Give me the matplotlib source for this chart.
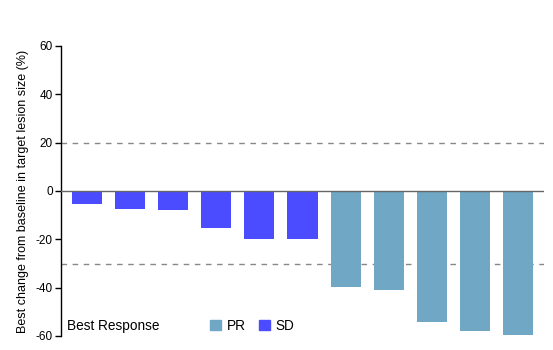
import numpy as np
import matplotlib
matplotlib.use("Agg")
import matplotlib.pyplot as plt
from matplotlib.patches import Patch

plt.rcParams['font.family'] = ['Liberation Sans', 'DejaVu Sans']

# best change per patient (%), sorted
changes = [-5.5, -7.3, -7.7, -15.2, -19.7, -19.9, -39.9, -41.1, -54.2, -57.9, -59.6]
responses = ['SD', 'SD', 'SD', 'SD', 'SD', 'SD', 'PR', 'PR', 'PR', 'PR', 'PR']
colors = {'PR': '#70a7c4', 'SD': '#4b4bff'}
yticks = [-60, -40, -20, 0, 20, 40, 60]
ref_lines = [20, -30]

fig = plt.figure(figsize=(5.53, 3.5), dpi=100)
ax = fig.add_axes([61/553, 14/350, (544-61)/553, 290/350])

x = np.arange(len(changes))
ax.bar(x, changes, width=0.7, color=[colors[r] for r in responses], zorder=2)

ax.axhline(0, color='#666666', lw=1.0, zorder=3)
for yl in ref_lines:
    ax.axhline(yl, color='#888888', lw=1.0, ls=(0, (4, 4)), zorder=1)

ax.set_xlim(-0.6, len(changes) - 0.4)
ax.set_ylim(-60, 60)
ax.set_yticks(yticks)
ax.set_yticklabels([str(t) for t in yticks], fontsize=8.5)
ax.set_xticks([])
for s in ['top', 'right', 'bottom']:
    ax.spines[s].set_visible(False)
ax.spines['left'].set_linewidth(1.0)
ax.tick_params(axis='y', length=4, width=1.0, pad=2)
ax.set_ylabel('Best change from baseline in target lesion size (%)', fontsize=9.0, labelpad=5)

ax.text(0.012, 0.035, 'Best Response', transform=ax.transAxes, fontsize=9.8, va='center', ha='left')
handles = [Patch(color=colors['PR'], label='PR'), Patch(color=colors['SD'], label='SD')]
ax.legend(handles=handles, ncol=2, frameon=False, fontsize=9.8,
          loc='center left', bbox_to_anchor=(0.309, 0.035),
          handlelength=0.8, handleheight=0.8, handletextpad=0.4, columnspacing=1.0,
          borderpad=0, borderaxespad=0)

fig.savefig('out.png', dpi=100)
